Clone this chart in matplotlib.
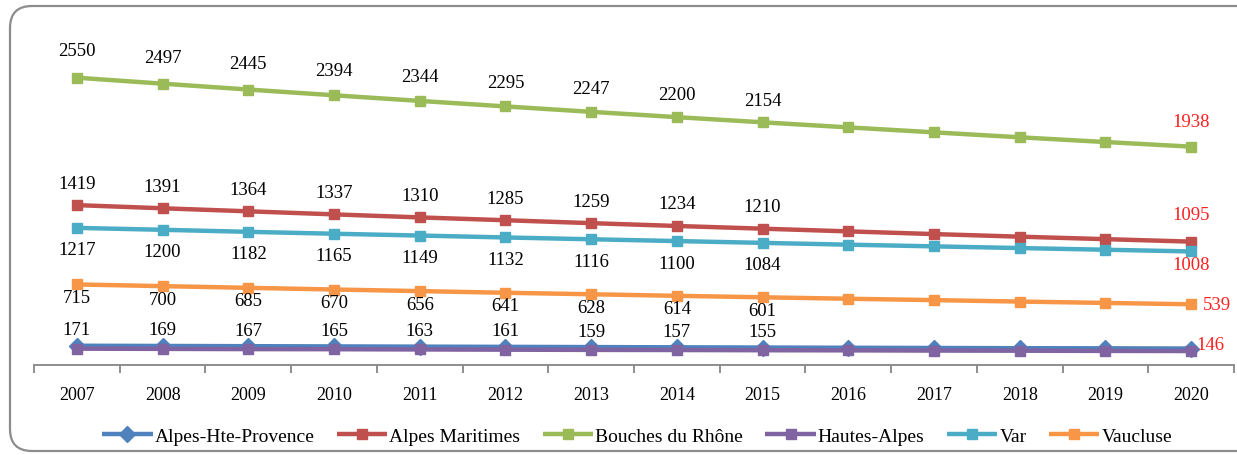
import matplotlib
matplotlib.use("Agg")
import matplotlib.pyplot as plt
from matplotlib.patches import FancyBboxPatch

years = ["2007", "2008", "2009", "2010", "2011", "2012", "2013",
         "2014", "2015", "2016", "2017", "2018", "2019", "2020"]
alpes_hte_provence = [171, 169, 167, 165, 163, 161, 159, 157, 155, 153, 151, 149, 148, 146]
alpes_maritimes = [1419, 1391, 1364, 1337, 1310, 1285, 1259, 1234, 1210, 1186, 1162, 1139, 1117, 1095]
bouches_du_rhone = [2550, 2497, 2445, 2394, 2344, 2295, 2247, 2200, 2154, 2109, 2065, 2021, 1979, 1938]
hautes_alpes = [145, 143, 141, 140, 138, 136, 134, 133, 131, 130, 128, 127, 125, 124]
var = [1217, 1200, 1182, 1165, 1149, 1132, 1116, 1100, 1084, 1068, 1053, 1038, 1023, 1008]
vaucluse = [715, 700, 685, 670, 656, 641, 628, 614, 601, 588, 576, 563, 551, 539]

series = [
    ("Alpes-Hte-Provence", alpes_hte_provence, "#4F81BD", "D"),
    ("Alpes Maritimes", alpes_maritimes, "#C0504D", "s"),
    ("Bouches du Rhône", bouches_du_rhone, "#9BBB59", "s"),
    ("Hautes-Alpes", hautes_alpes, "#8064A2", "s"),
    ("Var", var, "#4BACC6", "s"),
    ("Vaucluse", vaucluse, "#F79646", "s"),
]

W, H = 1237, 456
fig = plt.figure(figsize=(W / 100, H / 100), dpi=100)
serif = ["Liberation Serif", "DejaVu Serif"]

# background frame
bg = fig.add_axes([0, 0, 1, 1], zorder=-5)
bg.set_xlim(0, W)
bg.set_ylim(H, 0)
bg.axis("off")
bg.add_patch(FancyBboxPatch((10, 7), 1300, 445, boxstyle="round,pad=0,rounding_size=22",
                            fc="white", ec="#8c8c8c", lw=1.6))

ax = fig.add_axes([34 / W, 1 - 366 / H, (1234 - 34) / W, (366 - 28) / H])
ax.set_facecolor("none")
x = list(range(len(years)))
for name, vals, col, mk in series:
    ms = 8.5 if mk == "D" else 7
    ax.plot(x, vals, color=col, lw=3.2, marker=mk, ms=ms, label=name, solid_capstyle="butt")

ax.set_xlim(-0.5, len(years) - 0.5)
ax.set_ylim(0, 3000)
ax.set_yticks([])
for s in ["left", "right", "top"]:
    ax.spines[s].set_visible(False)
ax.spines["bottom"].set_color("#868686")
ax.spines["bottom"].set_linewidth(1.3)
ax.set_xticks([i - 0.5 for i in range(len(years) + 1)])
ax.set_xticklabels([])
ax.tick_params(axis="x", which="major", length=6, color="#868686", width=1.3, direction="out")
ax.set_xticks(x, minor=True)
ax.set_xticklabels(years, minor=True, fontsize=13, family=serif)
ax.tick_params(axis="x", which="minor", length=0, pad=15)

fs = 13.5
def lab(i, v, dy, color="black", dx=0, ha="center"):
    ax.annotate(str(v), (i, v), xytext=(dx, dy), textcoords="offset pixels",
                ha=ha, va="center", fontsize=fs, family=serif, color=color)

for i in range(9):
    lab(i, bouches_du_rhone[i], 27 - i * 0.6)
    lab(i, alpes_maritimes[i], 22)
    lab(i, var[i], -22)
    lab(i, vaucluse[i], -13)
    lab(i, alpes_hte_provence[i], 16)

red = "#FF1F1F"
n = len(years) - 1
lab(n, bouches_du_rhone[n], 25, red)
lab(n, alpes_maritimes[n], 27, red)
lab(n, var[n], -13, red)
lab(n, vaucluse[n], 0, red, dx=12, ha="left")
lab(n, alpes_hte_provence[n], 4, red, dx=5, ha="left")

leg = fig.legend(loc="center", bbox_to_anchor=(0.515, 1 - 437 / H), ncol=6, frameon=False,
                 prop={"family": serif, "size": 14}, handlelength=2.6, columnspacing=1.15,
                 handletextpad=0.1)

fig.savefig("out.png", dpi=100)
